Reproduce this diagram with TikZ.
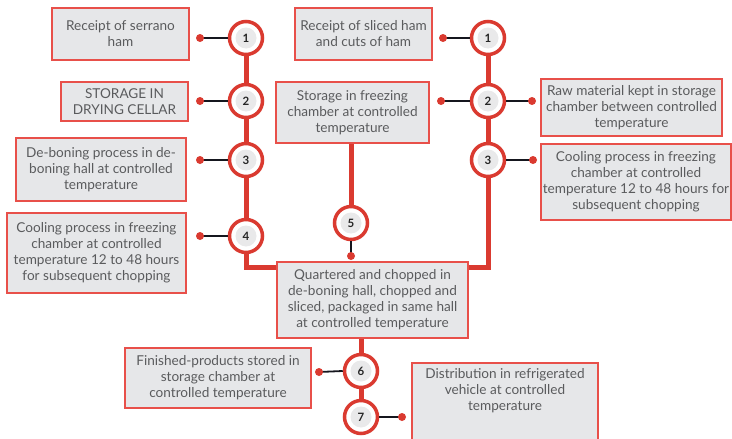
\documentclass[tikz,border=0pt]{standalone}
\usepackage{fontspec}
\setmainfont{Lato}
\usetikzlibrary{backgrounds}
\definecolor{flowred}{HTML}{DA3A30}
\definecolor{boxred}{HTML}{E8504A}
\definecolor{boxfill}{HTML}{E6E7E9}
\definecolor{txtgrey}{HTML}{5A5B5D}
\definecolor{innergrey}{HTML}{E9E9EA}
\definecolor{linkdark}{HTML}{15161E}
\tikzset{
  box/.style={draw=boxred, line width=1.3pt, fill=boxfill, text=txtgrey, align=center,
    inner sep=2pt, font=\fontsize{13.6}{16}\selectfont},
  stepcircle/.style={circle, draw=flowred, line width=3.5pt, fill=white, minimum size=33pt,
    inner sep=0pt, font=\fontsize{11.5}{13}\selectfont\bfseries, text=black!85,
    path picture={\fill[innergrey] (path picture bounding box.center) circle (10.5pt);}},
  flow/.style={draw=flowred, line width=5pt},
  link/.style={draw=linkdark, line width=1.8pt},
  dot/.style={fill=flowred}
}
\begin{document}
\begin{tikzpicture}[x=1pt,y=-1pt]
\useasboundingbox (0,0) rectangle (732,439);
% boxes
\node[box, minimum width=137pt, minimum height=52pt] (A) at (120.5,34) {Receipt of serrano\\ham};
\node[box, minimum width=127pt, minimum height=39pt] (B) at (124.5,101.5) {STORAGE IN\\DRYING CELLAR};
\node[box, minimum width=170pt, minimum height=63pt] (C) at (101,169.5) {De-boning process in de-\\boning hall at controlled\\temperature};
\node[box, minimum width=179pt, minimum height=80pt] (D) at (96.5,253) {Cooling process in freezing\\chamber at controlled\\temperature 12 to 48 hours\\for subsequent chopping};
\node[box, minimum width=137pt, minimum height=52pt] (E) at (363.5,34) {Receipt of sliced ham\\and cuts of ham};
\node[box, minimum width=153pt, minimum height=61pt] (F) at (352.5,112.5) {Storage in freezing\\chamber at controlled\\temperature};
\node[box, minimum width=181pt, minimum height=57pt] (G) at (631.5,107.5) {Raw material kept in storage\\chamber between controlled\\temperature};
\node[box, minimum width=190pt, minimum height=76pt] (H) at (636,182) {Cooling process in freezing\\chamber at controlled\\temperature 12 to 48 hours for\\subsequent chopping};
\node[box, minimum width=191pt, minimum height=76pt] (I) at (372.5,300) {Quartered and chopped in\\de-boning hall, chopped and\\sliced, packaged in same hall\\at controlled temperature};
\node[box, minimum width=186pt, minimum height=60pt] (J) at (218,378) {Finished-products stored in\\storage chamber at\\controlled temperature};
\draw[draw=boxred, line width=1.3pt, fill=boxfill] (412,363) rectangle (598,448);
\node[box, draw=none, fill=none, anchor=north] (K) at (505,366) {Distribution in refrigerated\\vehicle at controlled\\temperature};
% circles
\node[stepcircle] (c1) at (246,38) {1};
\node[stepcircle] (c2) at (246,101) {2};
\node[stepcircle] (c3) at (246,160) {3};
\node[stepcircle] (c4) at (246,236) {4};
\node[stepcircle] (r1) at (488,38) {1};
\node[stepcircle] (r2) at (488,101) {2};
\node[stepcircle] (r3) at (488,160) {3};
\node[stepcircle] (c5) at (351,223) {5};
\node[stepcircle] (c6) at (361,371) {6};
\node[stepcircle] (c7) at (361,417) {7};
% free ends
\coordinate (L) at (246,267);
\coordinate (R) at (488,267);
\coordinate (d1) at (200,38);
\coordinate (d2) at (200,101);
\coordinate (d3) at (200,160);
\coordinate (d4) at (200,236);
\coordinate (e1) at (443,38);
\coordinate (e2) at (441,101);
\coordinate (g2) at (532,101);
\coordinate (h3) at (533,160);
\coordinate (d5) at (351,256);
\coordinate (d6) at (319,372);
\coordinate (d7) at (402,417);
\begin{scope}[on background layer]
\draw[flow] (c1) -- (c2) -- (c3) -- (c4) -- (L) -- (L -| I.west);
\draw[flow] (r1) -- (r2) -- (r3) -- (R) -- (R -| I.east);
\draw[flow] (F.south -| c5) -- (c5);
\draw[flow] (I.south -| c6) -- (c6) -- (c7);
\end{scope}
\draw[link] (c1.west) -- (d1);
\draw[link] (c2.west) -- (d2);
\draw[link] (c3.west) -- (d3);
\draw[link] (c4.west) -- (d4);
\draw[link] (r1.west) -- (e1);
\draw[link] (r2.west) -- (e2);
\draw[link] (r2.east) -- (g2);
\draw[link] (r3.east) -- (h3);
\draw[link] (c5.south) -- (d5);
\draw[link] (c6.west) -- (d6);
\draw[link] (c7.east) -- (d7);
\foreach \d in {d1,d2,d3,d4,e1,e2,g2,h3,d5,d6,d7} \fill[dot] (\d) circle (4pt);
\end{tikzpicture}
\end{document}
